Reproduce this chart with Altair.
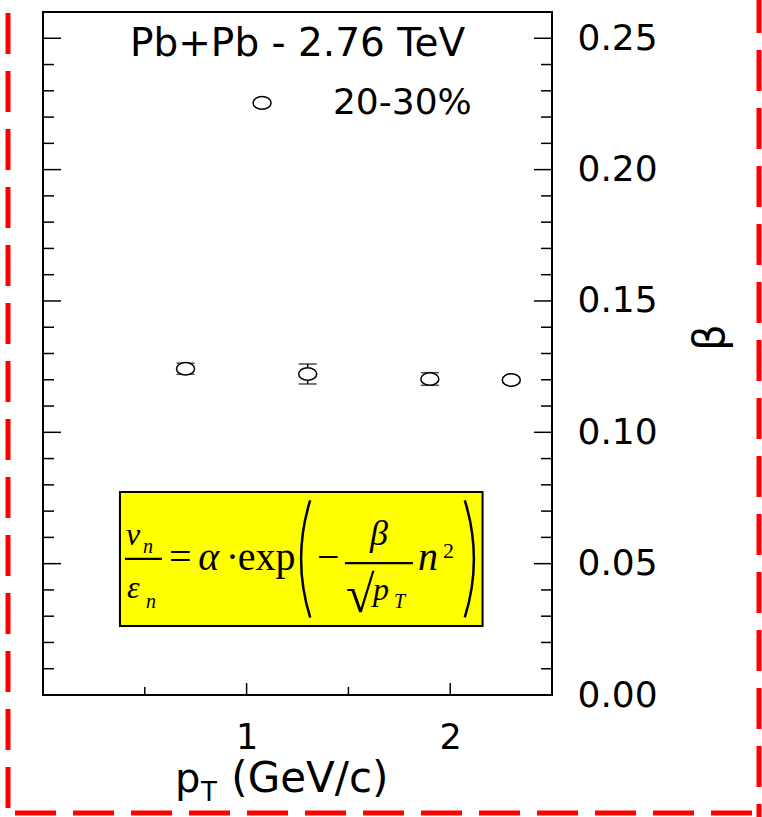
import altair as alt
import pandas as pd

# ---------------- data ----------------
pt_values = [0.7, 1.3, 1.9, 2.3]
beta_values = [0.1242, 0.1222, 0.1203, 0.1199]
beta_errors = [0.0021, 0.0038, 0.0024, 0.0010]

series_label = ["20-30%"]
header_text = ["Pb+Pb - 2.76 TeV"]

x_domain = [0, 2.5]
y_domain = [0, 0.26]
x_label_values = [1, 2]
y_label_values = [0.0, 0.05, 0.10, 0.15, 0.20, 0.25]
x_major_ticks = [1, 2]
x_minor_ticks = [0.5, 1.5]
y_major_ticks = [0.05, 0.10, 0.15, 0.20, 0.25]
y_minor_ticks = [0.01, 0.02, 0.03, 0.04, 0.06, 0.07, 0.08, 0.09, 0.11, 0.12,
                 0.13, 0.14, 0.16, 0.17, 0.18, 0.19, 0.21, 0.22, 0.23, 0.24]

# annotation anchors (data units)
header_pos = [(1.250, 0.2433)]
legend_symbol_pos = [(1.076, 0.2254)]
legend_text_pos = [(1.424, 0.2212)]
box_x = [0.378, 2.159]
box_y = [0.0263, 0.0773]

# equation pieces: text, x, y(baseline), size
eq_italic = [
    ("v", 0.408, 0.0571, 32), ("n", 0.491, 0.0541, 20),
    ("ε", 0.413, 0.0369, 32), ("n", 0.506, 0.0331, 20),
    ("α", 0.763, 0.0476, 40),
    ("β", 1.606, 0.0571, 36),
    ("p", 1.621, 0.0362, 32), ("T", 1.724, 0.0331, 20),
    ("n", 1.842, 0.0476, 40),
]
eq_roman = [
    ("=", 0.619, 0.0476, 40), ("·", 0.898, 0.0476, 40),
    ("exp", 0.957, 0.0476, 40), ("−", 1.346, 0.0476, 40),
    ("√", 1.488, 0.0316, 52), ("2", 1.965, 0.0522, 22),
]
eq_bars = [(0.403, 0.584, 0.0518), (1.483, 1.817, 0.0502)]
paren_left = [(2.235, 0.0518)]
paren_right = [(1.149, 0.0518)]

xtitle_pieces = [("p", 0.648, -0.0369, 40), ("T", 0.776, -0.0404, 26),
                 ("(GeV/c)", 0.925, -0.0369, 42)]

W, H = 509, 683

xs = alt.Scale(domain=x_domain, nice=False, zero=False)
ys = alt.Scale(domain=y_domain, nice=False, zero=False)

AX = alt.Axis(
    orient="bottom", values=x_label_values, format="d",
    labelFont="DejaVu Sans", labelFontSize=35, labelColor="black",
    labelPadding=25, ticks=False, domain=False, grid=False, title=None,
    labelOverlap=False)
AY = alt.Axis(
    orient="right", values=y_label_values, format=".2f",
    labelFont="DejaVu Sans", labelFontSize=36, labelColor="black",
    labelPadding=25, ticks=False, domain=False, grid=False,
    labelOverlap=False, labelBaseline="middle",
    title="β", titleFont="DejaVu Sans", titleFontSize=42,
    titleFontWeight="normal", titleColor="black", titleAngle=270,
    titleX=158, titleY=325, titleAlign="center", titleBaseline="middle")


def X(f="x"):
    return alt.X(f"{f}:Q", scale=xs, axis=AX)


def Y(f="y"):
    return alt.Y(f"{f}:Q", scale=ys, axis=AY)


pts = pd.DataFrame({"x": pt_values, "y": beta_values, "e": beta_errors})
pts["lo"] = pts["y"] - pts["e"]
pts["hi"] = pts["y"] + pts["e"]

ELLIPSE = "M-1,0A1,0.7,0,1,1,1,0A1,0.7,0,1,1,-1,0Z"

one = pd.DataFrame({"d": [0]})

tick_style = dict(color="black", strokeWidth=1.5)
ymaj = pd.DataFrame({"y": y_major_ticks})
ymin = pd.DataFrame({"y": y_minor_ticks})
xmaj = pd.DataFrame({"x": x_major_ticks})
xmin = pd.DataFrame({"x": x_minor_ticks})
ticks = [
    alt.Chart(ymaj).mark_rule(**tick_style).encode(y=Y(), x=alt.value(0), x2=alt.value(18)),
    alt.Chart(ymaj).mark_rule(**tick_style).encode(y=Y(), x=alt.value(W - 18), x2=alt.value(W)),
    alt.Chart(ymin).mark_rule(**tick_style).encode(y=Y(), x=alt.value(0), x2=alt.value(11)),
    alt.Chart(ymin).mark_rule(**tick_style).encode(y=Y(), x=alt.value(W - 11), x2=alt.value(W)),
    alt.Chart(xmaj).mark_rule(**tick_style).encode(x=X(), y=alt.value(H), y2=alt.value(H - 12)),
    alt.Chart(xmin).mark_rule(**tick_style).encode(x=X(), y=alt.value(H), y2=alt.value(H - 8)),
]

# error bars + points
err_rule = alt.Chart(pts).mark_rule(color="black", strokeWidth=1.5).encode(
    x=X(), y=Y("lo"), y2="hi:Q")
cap_lo = alt.Chart(pts).mark_tick(color="black", thickness=1.5, size=18,
                                  orient="horizontal").encode(x=X(), y=Y("lo"))
cap_hi = alt.Chart(pts).mark_tick(color="black", thickness=1.5, size=18,
                                  orient="horizontal").encode(x=X(), y=Y("hi"))
points = alt.Chart(pts).mark_point(shape=ELLIPSE, size=324, filled=True,
                                   fill="white", stroke="black",
                                   strokeWidth=1.5, opacity=1).encode(x=X(), y=Y())

# header and legend
hdr = pd.DataFrame({"x": [p[0] for p in header_pos], "y": [p[1] for p in header_pos],
                    "t": header_text})
header = alt.Chart(hdr).mark_text(font="DejaVu Sans", fontSize=39, align="center",
                                  baseline="alphabetic", color="black").encode(
    x=X(), y=Y(), text="t:N")
lsym = pd.DataFrame({"x": [p[0] for p in legend_symbol_pos],
                     "y": [p[1] for p in legend_symbol_pos]})
legend_sym = alt.Chart(lsym).mark_point(shape=ELLIPSE, size=324, filled=True,
                                        fill="white", stroke="black",
                                        strokeWidth=1.5, opacity=1).encode(x=X(), y=Y())
ltxt = pd.DataFrame({"x": [p[0] for p in legend_text_pos],
                     "y": [p[1] for p in legend_text_pos], "t": series_label})
legend_txt = alt.Chart(ltxt).mark_text(font="DejaVu Sans", fontSize=36, align="left",
                                       baseline="alphabetic", color="black").encode(
    x=X(), y=Y(), text="t:N")

# equation box
boxdf = pd.DataFrame({"x": [box_x[0]], "x2": [box_x[1]], "y": [box_y[0]], "y2": [box_y[1]]})
box = alt.Chart(boxdf).mark_rect(fill="#ffff00", stroke="black", strokeWidth=2).encode(
    x=X(), x2="x2:Q", y=Y(), y2="y2:Q")


def txt_df(rows):
    return pd.DataFrame({"t": [r[0] for r in rows], "x": [r[1] for r in rows],
                         "y": [r[2] for r in rows], "s": [r[3] for r in rows]})


eq_it = alt.Chart(txt_df(eq_italic)).mark_text(
    font="Liberation Serif", fontStyle="italic", align="left",
    baseline="alphabetic", color="black").encode(
    x=X(), y=Y(), text="t:N", size=alt.Size("s:Q", scale=None))
eq_rm = alt.Chart(txt_df(eq_roman)).mark_text(
    font="Liberation Serif", align="left", baseline="alphabetic",
    color="black").encode(
    x=X(), y=Y(), text="t:N", size=alt.Size("s:Q", scale=None))
bars_df = pd.DataFrame({"x": [b[0] for b in eq_bars], "x2": [b[1] for b in eq_bars],
                        "y": [b[2] for b in eq_bars]})
eq_bar = alt.Chart(bars_df).mark_rule(color="black", strokeWidth=2.2).encode(
    x=X(), x2="x2:Q", y=Y())
pl = pd.DataFrame({"x": [p[0] for p in paren_left], "y": [p[1] for p in paren_left]})
pr = pd.DataFrame({"x": [p[0] for p in paren_right], "y": [p[1] for p in paren_right]})
paren_l = alt.Chart(pl).mark_arc(theta=4.41, theta2=5.014, radius=198, radius2=195.5,
                                 color="black").encode(x=X(), y=Y())
paren_r = alt.Chart(pr).mark_arc(theta=1.269, theta2=1.873, radius=198, radius2=195.5,
                                 color="black").encode(x=X(), y=Y())

# x-axis title with subscript
xt = alt.Chart(txt_df(xtitle_pieces)).mark_text(
    font="DejaVu Sans", align="left", baseline="alphabetic", color="black").encode(
    x=X(), y=Y(), text="t:N", size=alt.Size("s:Q", scale=None))

# red dashed outer frame
dash = dict(color="#ff0000", strokeWidth=5, strokeDash=[41, 17])
frame_l = alt.Chart(one).mark_rule(**dash).encode(
    x=alt.value(-35), y=alt.value(1), y2=alt.value(805))
frame_r = alt.Chart(one).mark_rule(**dash).encode(
    x=alt.value(716), y=alt.value(-20), y2=alt.value(805))
frame_b = alt.Chart(one).mark_rule(**dash).encode(
    y=alt.value(801), x=alt.value(-28), x2=alt.value(719))

chart = alt.layer(
    box, eq_bar, eq_it, eq_rm, paren_l, paren_r,
    *ticks, err_rule, cap_lo, cap_hi, points,
    header, legend_sym, legend_txt, xt,
    frame_l, frame_r, frame_b,
).properties(
    width=W, height=H,
    padding={"left": 43, "top": 12, "right": 210, "bottom": 122},
    autosize=alt.AutoSizeParams(type="none"),
    background="white",
).configure_view(stroke="black", strokeWidth=2)

chart.save("out.html", embed_options={"renderer": "svg", "actions": False})
